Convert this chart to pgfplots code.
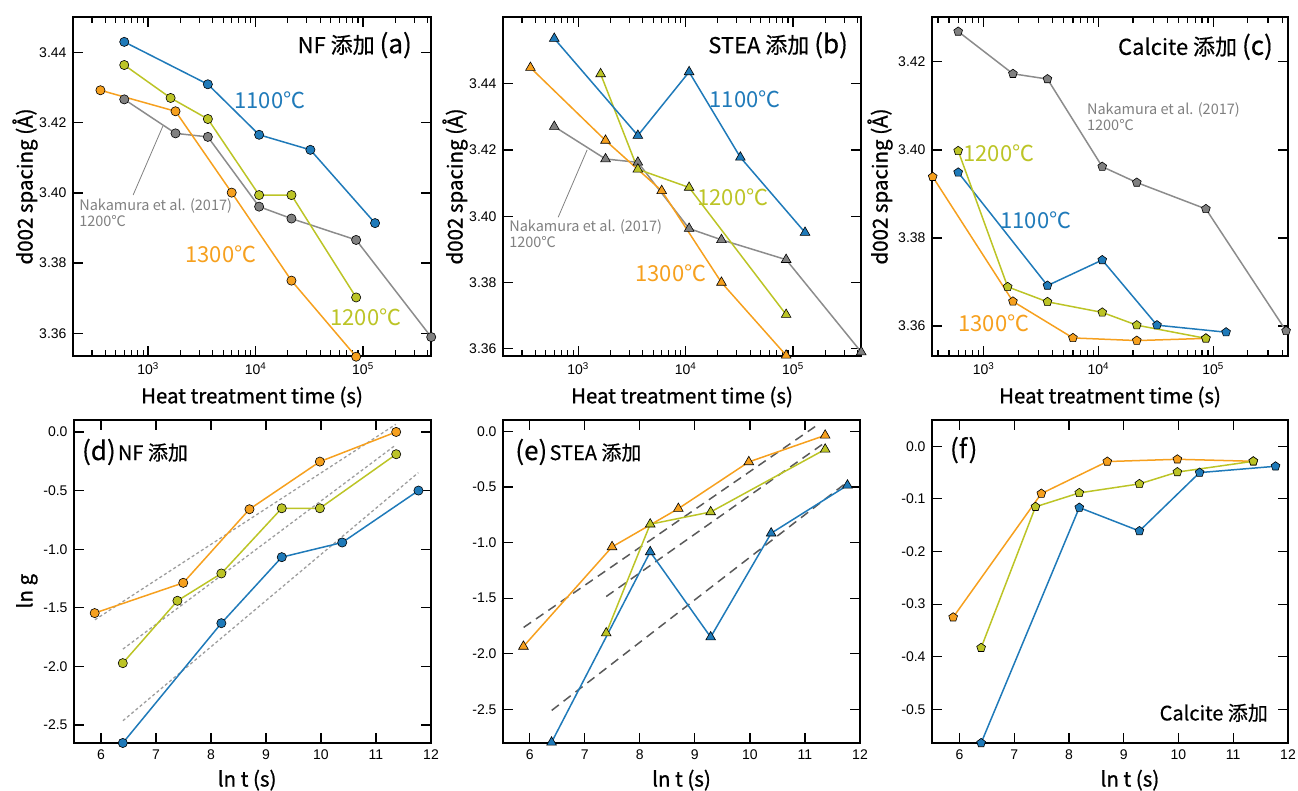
\documentclass[border=0pt]{standalone}
\usepackage{fontspec}
\setmainfont{Noto Sans CJK JP}
\newfontfamily\tickfont{Liberation Sans}
\newfontfamily\labfont{Noto Sans CJK JP}[FakeBold=0.9]
\newfontfamily\titfont{Noto Sans CJK JP}[FakeBold=0.4]
\usepackage{pgfplots}
\pgfplotsset{compat=1.18}
\definecolor{cblue}{RGB}{31,122,185}
\definecolor{corange}{RGB}{246,160,30}
\definecolor{cgreen}{RGB}{188,196,38}
\definecolor{cgray}{RGB}{128,128,128}
\definecolor{cgrayline}{RGB}{140,140,140}
\tikzset{
  mytlab/.style={font=\fontsize{22}{22}\selectfont},
  mynak/.style={font=\fontsize{14.5}{16}\selectfont, text=cgray, align=left, anchor=north west, inner sep=0pt}
}
\pgfplotsset{
  mybase/.style={scale only axis, clip=false, tick align=inside, tick pos=both,
    axis line style={line width=1.3pt},
    major tick length=10pt, minor tick length=6pt,
    every tick/.append style={black, line width=1.2pt},
    tick label style={font=\tickfont\fontsize{14}{14}\selectfont},
    label style={font=\labfont\fontsize{20.5}{20.5}\selectfont},
    xticklabel style={yshift=-3pt}, yticklabel style={xshift=-3pt},
    scaled ticks=false},
  mytop/.style={width=358pt, height=339pt,
    xmin=200, xmax=430000,
    xtick={1000,10000,100000},
    xticklabels={10\textsuperscript{3},10\textsuperscript{4},10\textsuperscript{5}},
    minor xtick={200,300,400,500,600,700,800,900,2000,3000,4000,5000,6000,7000,8000,9000,20000,30000,40000,50000,60000,70000,80000,90000,200000,300000,400000},
    ytick={3.36,3.38,3.40,3.42,3.44},
    yticklabel={\pgfmathprintnumber[fixed,fixed zerofill,precision=2,assume math mode=true]{\tick}},
    xlabel={Heat treatment time (s)},
    xlabel style={at={(axis description cs:0.5,-0.121)}, anchor=center},
    ylabel={d002 spacing (Å)}},
  mybot/.style={width=357pt, height=323pt, xmin=5.5, xmax=12,
    xtick={6,7,8,9,10,11,12},
    xticklabel={\pgfmathprintnumber[assume math mode=true]{\tick}},
    yticklabel={\pgfmathprintnumber[fixed,fixed zerofill,precision=1,assume math mode=true]{\tick}},
    xlabel={ln t (s)}},
  myln/.style={draw=#1, line width=1.5pt, mark options={fill=#1, draw=black, line width=0.6pt, solid}},
  mygr/.style={draw=cgrayline, line width=1.5pt, mark options={fill=cgray, draw=black, line width=0.6pt, solid}},
  mycir/.style={mark=*, mark size=4.6pt},
  mytri/.style={mark=triangle*, mark size=5.6pt},
  mypen/.style={mark=pentagon*, mark size=4.6pt},
  myfitd/.style={draw=black!38, line width=1.3pt, dash pattern=on 3pt off 2.5pt},
  myfite/.style={draw=black!65, line width=1.5pt, dash pattern=on 9pt off 6pt}
}
\begin{document}
\begin{tikzpicture}
\useasboundingbox (0pt,0pt) rectangle (1298pt,791pt);
% (a)
\begin{semilogxaxis}[mybase, mytop, at={(73pt,435pt)}, anchor=south west, ymin=3.3535, ymax=3.4502,
  ylabel style={at={(axis description cs:-0.134,0.5)}, anchor=center}]
\addplot[mygr, mycir] coordinates {(600,3.4267) (1800,3.417) (3600,3.416) (10800,3.3961) (21600,3.3927) (86400,3.3866) (432000,3.3589)};
\addplot[myln=corange, mycir] coordinates {(360,3.4293) (1800,3.4233) (6000,3.4001) (21600,3.375) (86400,3.3533)};
\addplot[myln=cgreen, mycir] coordinates {(600,3.4365) (1620,3.4271) (3600,3.4211) (10800,3.3994) (21600,3.3994) (86400,3.3702)};
\addplot[myln=cblue, mycir] coordinates {(600,3.4431) (3600,3.431) (10800,3.4166) (32400,3.4123) (129600,3.3914)};
\node[anchor=east, font=\titfont\fontsize{22}{22}\selectfont, inner sep=0pt] at (rel axis cs:0.947,0.917) {NF 添加 {\fontsize{26}{26}\selectfont(a)}};
\node[mytlab, text=cblue] at (rel axis cs:0.55,0.755) {1100℃};
\node[mytlab, text=corange] at (rel axis cs:0.413,0.301) {1300℃};
\node[mytlab, text=cgreen] at (rel axis cs:0.818,0.115) {1200℃};
\node[mynak] at (rel axis cs:0.017,0.466) {Nakamura et al. (2017)\\1200℃};
\draw[cgray, line width=0.8pt] (rel axis cs:0.251,0.678) -- (rel axis cs:0.168,0.475);
\end{semilogxaxis}
% (b)
\begin{semilogxaxis}[mybase, mytop, at={(503pt,435pt)}, anchor=south west, ymin=3.3578, ymax=3.4602,
  ylabel style={at={(axis description cs:-0.134,0.5)}, anchor=center}]
\addplot[mygr, mytri] coordinates {(600,3.4271) (1800,3.4173) (3600,3.4163) (10800,3.3963) (21600,3.3929) (86400,3.3869) (432000,3.359)};
\addplot[myln=corange, mytri] coordinates {(360,3.4449) (1800,3.4229) (6000,3.4077) (21600,3.38) (86400,3.358)};
\addplot[myln=cgreen, mytri] coordinates {(1620,3.443) (3600,3.4142) (10800,3.4087) (86400,3.3703)};
\addplot[myln=cblue, mytri] coordinates {(600,3.4537) (3600,3.4244) (10800,3.4436) (32400,3.4178) (129600,3.3951)};
\node[anchor=east, font=\titfont\fontsize{22}{22}\selectfont, inner sep=0pt] at (rel axis cs:0.964,0.917) {STEA 添加 {\fontsize{26}{26}\selectfont(b)}};
\node[mytlab, text=cblue] at (rel axis cs:0.676,0.758) {1100℃};
\node[mytlab, text=cgreen] at (rel axis cs:0.642,0.469) {1200℃};
\node[mytlab, text=corange] at (rel axis cs:0.469,0.245) {1300℃};
\node[mynak] at (rel axis cs:0.017,0.404) {Nakamura et al. (2017)\\1200℃};
\draw[cgray, line width=0.8pt] (rel axis cs:0.235,0.608) -- (rel axis cs:0.154,0.409);
\end{semilogxaxis}
% (c)
\begin{semilogxaxis}[mybase, mytop, at={(932pt,435pt)}, anchor=south west, width=356pt,
  xmin=355, xmax=449000, ymin=3.3532, ymax=3.4302,
  ytick={3.36,3.38,3.40,3.42},
  ylabel style={at={(axis description cs:-0.146,0.5)}, anchor=center}]
\addplot[mygr, mypen] coordinates {(600,3.4269) (1800,3.4173) (3600,3.4161) (10800,3.3962) (21600,3.3926) (86400,3.3866) (432000,3.3589)};
\addplot[myln=corange, mypen] coordinates {(360,3.3939) (1800,3.3656) (6000,3.3573) (21600,3.3567) (86400,3.3572)};
\addplot[myln=cblue, mypen] coordinates {(600,3.3949) (3600,3.3692) (10800,3.375) (32400,3.3602) (129600,3.3586)};
\addplot[myln=cgreen, mypen] coordinates {(600,3.3998) (1620,3.3689) (3600,3.3655) (10800,3.3631) (21600,3.3602) (86400,3.3572)};
\node[anchor=east, font=\titfont\fontsize{22}{22}\selectfont, inner sep=0pt] at (rel axis cs:0.958,0.912) {Calcite 添加 {\fontsize{26}{26}\selectfont(c)}};
\node[mytlab, text=cgreen] at (rel axis cs:0.188,0.599) {1200℃};
\node[mytlab, text=cblue] at (rel axis cs:0.292,0.401) {1100℃};
\node[mytlab, text=corange] at (rel axis cs:0.174,0.097) {1300℃};
\node[mynak] at (rel axis cs:0.435,0.749) {Nakamura et al. (2017)\\1200℃};
\end{semilogxaxis}
% (d)
\begin{axis}[mybase, mybot, at={(74pt,48pt)}, anchor=south west, xmin=5.51, ymin=-2.653, ymax=0.102,
  ytick={-2.5,-2,-1.5,-1,-0.5,0},
  ylabel={ln g}, ylabel style={at={(axis description cs:-0.132,0.47)}, anchor=center},
  xlabel style={at={(axis description cs:0.485,-0.115)}, anchor=center}]
\addplot[myfitd, mark=none] coordinates {(5.89,-1.602) (11.36,0.065)};
\addplot[myfitd, mark=none] coordinates {(6.40,-1.852) (11.36,-0.111)};
\addplot[myfitd, mark=none] coordinates {(6.40,-2.463) (11.77,-0.347)};
\addplot[myln=corange, mycir] coordinates {(5.886,-1.545) (7.496,-1.287) (8.70,-0.659) (9.98,-0.253) (11.367,0.0)};
\addplot[myln=cgreen, mycir] coordinates {(6.397,-1.972) (7.39,-1.44) (8.189,-1.207) (9.287,-0.651) (9.98,-0.651) (11.367,-0.19)};
\addplot[myln=cblue, mycir] coordinates {(6.397,-2.653) (8.189,-1.631) (9.287,-1.068) (10.386,-0.943) (11.772,-0.5)};
\node[anchor=west, inner sep=0pt, font=\titfont] at (rel axis cs:0.022,0.901) {{\fontsize{26}{26}\selectfont(d)} {\fontsize{20}{20}\selectfont NF 添加}};
\end{axis}
% (e)
\begin{axis}[mybase, mybot, at={(503pt,48pt)}, anchor=south west, xmin=5.515, ymin=-2.802, ymax=0.102,
  ytick={-2.5,-2,-1.5,-1,-0.5,0},
  xlabel style={at={(axis description cs:0.5,-0.115)}, anchor=center}]
\addplot[myfite, mark=none] coordinates {(5.89,-1.763) (11.27,0.072)};
\addplot[myfite, mark=none] coordinates {(7.39,-1.485) (11.36,-0.102)};
\addplot[myfite, mark=none] coordinates {(6.40,-2.509) (11.77,-0.455)};
\addplot[myln=corange, mytri] coordinates {(5.886,-1.934) (7.496,-1.039) (8.70,-0.695) (9.98,-0.275) (11.367,-0.036)};
\addplot[myln=cgreen, mytri] coordinates {(7.39,-1.814) (8.189,-0.835) (9.287,-0.725) (11.367,-0.162)};
\addplot[myln=cblue, mytri] coordinates {(6.397,-2.796) (8.189,-1.084) (9.287,-1.850) (10.386,-0.916) (11.772,-0.485)};
\node[anchor=west, inner sep=0pt, font=\titfont] at (rel axis cs:0.034,0.901) {{\fontsize{26}{26}\selectfont(e)} {\fontsize{20}{20}\selectfont STEA 添加}};
\end{axis}
% (f)
\begin{axis}[mybase, mybot, at={(932pt,48pt)}, anchor=south west, width=356pt, xmin=5.50, ymin=-0.564, ymax=0.05,
  ytick={-0.5,-0.4,-0.3,-0.2,-0.1,0},
  xlabel style={at={(axis description cs:0.556,-0.115)}, anchor=center}]
\addplot[myln=corange, mypen] coordinates {(5.886,-0.325) (7.496,-0.0899) (8.70,-0.029) (9.98,-0.0247) (11.367,-0.0285)};
\addplot[myln=cgreen, mypen] coordinates {(6.397,-0.383) (7.39,-0.115) (8.189,-0.0886) (9.287,-0.0715) (9.98,-0.049) (11.367,-0.0285)};
\addplot[myln=cblue, mypen] coordinates {(6.397,-0.564) (8.189,-0.1165) (9.287,-0.161) (10.386,-0.05) (11.772,-0.038)};
\node[anchor=west, inner sep=0pt, font=\titfont\fontsize{26}{26}\selectfont] at (rel axis cs:0.05,0.907) {(f)};
\node[anchor=east, inner sep=0pt, font=\titfont\fontsize{20}{20}\selectfont] at (rel axis cs:0.944,0.093) {Calcite 添加};
\end{axis}
\end{tikzpicture}
\end{document}
